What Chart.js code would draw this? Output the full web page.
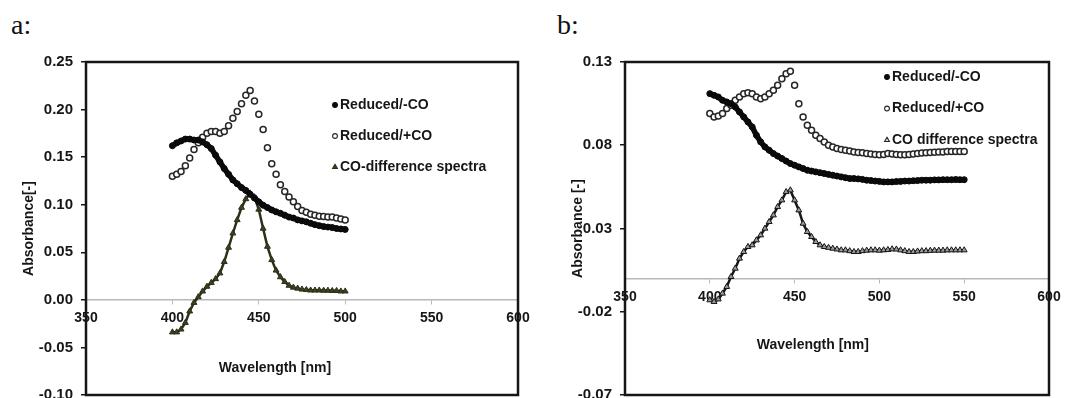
<!DOCTYPE html>
<html>
<head>
<meta charset="utf-8">
<script src="https://cdn.jsdelivr.net/npm/chart.js@4.4.0/dist/chart.umd.min.js"></script>
<style>
  body { margin: 0; background: #fff; width: 1087px; height: 398px; overflow: hidden; position: relative; }
  canvas { position: absolute; top: 0; }
  #ca { left: 0; }
  #cb { left: 540px; }
  .tag { position: absolute; top: 9px; font-family: "Liberation Serif", "DejaVu Serif", serif; font-size: 28px; color: #111; }
</style>
</head>
<body>
<div class="tag" style="left:11px">a:</div>
<div class="tag" style="left:557px">b:</div>
<canvas id="ca" width="560" height="412"></canvas>
<canvas id="cb" width="547" height="412"></canvas>
<script>
// ---- panel a ----
const wlA = [400, 402.5, 405, 407.5, 410, 412.5, 415, 417.5, 420, 422.5, 425, 427.5, 430, 432.5, 435, 437.5,
  440, 442.5, 445, 447.5, 450, 452.5, 455, 457.5, 460, 462.5, 465, 467.5, 470, 472.5, 475, 477.5,
  480, 482.5, 485, 487.5, 490, 492.5, 495, 497.5, 500];
const aReducedNoCO = [0.162, 0.165, 0.167, 0.169, 0.169, 0.168, 0.168, 0.166, 0.163, 0.159, 0.152, 0.145, 0.138, 0.132, 0.126, 0.122,
  0.118, 0.115, 0.111, 0.107, 0.103, 0.0995, 0.097, 0.0945, 0.0925, 0.091, 0.089, 0.087, 0.086, 0.084, 0.083, 0.082,
  0.0805, 0.079, 0.078, 0.077, 0.0765, 0.076, 0.075, 0.0745, 0.074];
const aReducedCO = [0.130, 0.132, 0.135, 0.141, 0.149, 0.158, 0.165, 0.171, 0.175, 0.177, 0.177, 0.175, 0.177, 0.183, 0.191, 0.198,
  0.206, 0.215, 0.220, 0.209, 0.195, 0.179, 0.160, 0.143, 0.132, 0.121, 0.114, 0.108, 0.103, 0.098, 0.094, 0.092,
  0.090, 0.089, 0.088, 0.0875, 0.087, 0.087, 0.086, 0.085, 0.084];
const aDiff = [-0.034, -0.034, -0.031, -0.024, -0.012, -0.003, 0.003, 0.009, 0.014, 0.018, 0.022, 0.028, 0.040, 0.055, 0.070, 0.084,
  0.097, 0.106, 0.112, 0.108, 0.095, 0.075, 0.056, 0.042, 0.031, 0.024, 0.019, 0.015, 0.013, 0.012, 0.011, 0.0105,
  0.010, 0.010, 0.010, 0.0098, 0.0098, 0.0095, 0.0095, 0.009, 0.009];
const yTicksA = [-0.10, -0.05, 0.00, 0.05, 0.10, 0.15, 0.20, 0.25];

// ---- panel b ----
const wlB = [400, 402.5, 405, 407.5, 410, 412.5, 415, 417.5, 420, 422.5, 425, 427.5, 430, 432.5, 435, 437.5,
  440, 442.5, 445, 447.5, 450, 452.5, 455, 457.5, 460, 462.5, 465, 467.5, 470, 472.5, 475, 477.5,
  480, 482.5, 485, 487.5, 490, 492.5, 495, 497.5, 500, 502.5, 505, 507.5, 510, 512.5, 515, 517.5,
  520, 522.5, 525, 527.5, 530, 532.5, 535, 537.5, 540, 542.5, 545, 547.5, 550];
const bReducedNoCO = [0.111, 0.110, 0.109, 0.107, 0.106, 0.105, 0.103, 0.100, 0.097, 0.094, 0.091, 0.086, 0.082, 0.079, 0.077, 0.075,
  0.0735, 0.072, 0.0705, 0.069, 0.068, 0.067, 0.066, 0.065, 0.0645, 0.064, 0.0635, 0.063, 0.0625, 0.062, 0.0615, 0.061,
  0.0605, 0.060, 0.060, 0.0598, 0.0595, 0.059, 0.0588, 0.0585, 0.0583, 0.058, 0.058, 0.058, 0.0582, 0.0583, 0.0585, 0.0585,
  0.0587, 0.0588, 0.059, 0.059, 0.059, 0.0592, 0.0592, 0.0593, 0.0593, 0.0593, 0.0594, 0.0593, 0.0593];
const bReducedCO = [0.099, 0.097, 0.0975, 0.099, 0.102, 0.104, 0.107, 0.109, 0.111, 0.1115, 0.111, 0.109, 0.108, 0.109, 0.111, 0.113,
  0.116, 0.120, 0.123, 0.1245, 0.116, 0.105, 0.097, 0.092, 0.089, 0.086, 0.084, 0.082, 0.080, 0.079, 0.078, 0.0775,
  0.077, 0.0765, 0.076, 0.0757, 0.0755, 0.075, 0.0748, 0.0745, 0.0743, 0.0745, 0.075, 0.0748, 0.0745, 0.0743, 0.0743, 0.0745,
  0.0748, 0.075, 0.0753, 0.0755, 0.0757, 0.0758, 0.076, 0.076, 0.0762, 0.0762, 0.0763, 0.0763, 0.0763];
const bDiff = [-0.013, -0.014, -0.0125, -0.009, -0.005, 0.001, 0.006, 0.012, 0.016, 0.019, 0.020, 0.023, 0.026, 0.030, 0.034, 0.038,
  0.043, 0.047, 0.052, 0.053, 0.047, 0.041, 0.033, 0.028, 0.025, 0.022, 0.020, 0.019, 0.0185, 0.018, 0.0175, 0.017,
  0.017, 0.0165, 0.016, 0.016, 0.0165, 0.0168, 0.017, 0.017, 0.0168, 0.017, 0.0172, 0.0176, 0.0175, 0.017, 0.0165, 0.016,
  0.016, 0.0163, 0.0165, 0.0165, 0.0167, 0.0168, 0.0168, 0.0168, 0.017, 0.017, 0.017, 0.017, 0.017];
const yTicksB = [-0.07, -0.02, 0.03, 0.08, 0.13];

const xTicks = [350, 400, 450, 500, 550, 600];
const legendNames = ['Reduced/-CO', 'Reduced/+CO'];

const FONT = '"Liberation Sans", Arial, sans-serif';
const INK = '#161616';

function drawMarker(ctx, style, x, y, r, fill, stroke) {
  ctx.beginPath();
  if (style === 'triangle') {
    ctx.moveTo(x, y - r * 1.15);
    ctx.lineTo(x + r, y + r * 0.6);
    ctx.lineTo(x - r, y + r * 0.6);
    ctx.closePath();
  } else {
    ctx.arc(x, y, r, 0, Math.PI * 2);
  }
  ctx.fillStyle = fill;
  ctx.fill();
  ctx.lineWidth = 1.1;
  ctx.strokeStyle = stroke;
  ctx.stroke();
}

const framePlugin = {
  id: 'frame',
  afterDraw(chart, args, opts) {
    const {ctx, chartArea: ca} = chart;
    const ys = chart.scales.y;
    ctx.save();
    ctx.strokeStyle = INK;
    ctx.lineWidth = 2.5;
    ctx.strokeRect(ca.left, ca.top, ca.right - ca.left, ca.bottom - ca.top);

    ctx.font = 'bold 14px ' + FONT;
    ctx.fillStyle = INK;
    ctx.textAlign = 'center';
    ctx.textBaseline = 'middle';
    ctx.fillText(opts.xTitle, ca.left + opts.xFrac * (ca.right - ca.left), ys.getPixelForValue(0) + opts.xGap);

    chart.data.datasets.forEach((ds, i) => {
      const x = ca.left + opts.legendLeft;
      const y = ca.top + opts.legendTop + i * opts.legendStep;
      drawMarker(ctx, ds.pointStyle, x, y, 2.4, opts.legendFill[i], opts.legendEdge[i]);
      ctx.fillStyle = INK;
      ctx.textAlign = 'left';
      ctx.fillText(ds.label, x + 5, y);
    });
    ctx.restore();
  }
};

function pts(xs, ys) {
  return xs.map((x, i) => ({x: x, y: ys[i]}));
}

function makeChart(id, cfg) {
  new Chart(document.getElementById(id), {
    type: 'scatter',
    data: {
      datasets: [
        {
          label: legendNames[0],
          data: pts(cfg.wl, cfg.noCO),
          pointStyle: 'circle',
          pointRadius: 3,
          pointBackgroundColor: '#0a0a0a',
          pointBorderColor: '#0a0a0a',
          pointBorderWidth: 1,
          showLine: true,
          borderColor: '#0a0a0a',
          borderWidth: 5.5
        },
        {
          label: legendNames[1],
          data: pts(cfg.wl, cfg.withCO),
          pointStyle: 'circle',
          pointRadius: 3,
          pointBackgroundColor: '#ffffff',
          pointBorderColor: '#262626',
          pointBorderWidth: 1.5
        },
        {
          label: cfg.diffName,
          data: pts(cfg.wl, cfg.diff),
          pointStyle: 'triangle',
          pointRadius: 3.4,
          pointBackgroundColor: cfg.triFill,
          pointBorderColor: cfg.triEdge,
          pointBorderWidth: 1,
          showLine: true,
          borderColor: cfg.triEdge,
          borderWidth: cfg.triLine
        }
      ]
    },
    options: {
      responsive: false,
      animation: false,
      layout: {padding: {top: 62, bottom: 16, right: cfg.padRight, left: 0}},
      plugins: {
        legend: {display: false},
        tooltip: {enabled: false},
        frame: cfg.frame
      },
      scales: {
        x: {
          type: 'linear',
          min: 350,
          max: 600,
          position: {y: 0},
          afterBuildTicks: s => { s.ticks = xTicks.map(v => ({value: v})); },
          ticks: {color: INK, font: {family: FONT, size: 14, weight: 'bold'}, padding: 6, maxRotation: 0, autoSkip: false},
          grid: {drawOnChartArea: false, tickLength: 4, color: '#b8b8b8', lineWidth: 1},
          border: {color: '#b8b8b8', width: 1.5}
        },
        y: {
          type: 'linear',
          min: cfg.yMin,
          max: cfg.yMax,
          afterBuildTicks: s => { s.ticks = cfg.yTicks.map(v => ({value: v})); },
          afterFit: s => { s.width = cfg.axisW; },
          ticks: {color: INK, font: {family: FONT, size: 15, weight: 'bold'}, padding: 8, callback: v => v.toFixed(2)},
          grid: {drawOnChartArea: false, tickLength: 5, color: INK, lineWidth: 1.5},
          border: {display: false},
          title: {display: true, text: cfg.yTitle, color: INK, font: {family: FONT, size: 14, weight: 'bold'}, padding: {top: cfg.yTitlePad, bottom: 0}}
        }
      }
    },
    plugins: [framePlugin]
  });
}

makeChart('ca', {
  wl: wlA, noCO: aReducedNoCO, withCO: aReducedCO, diff: aDiff,
  diffName: 'CO-difference spectra', triFill: '#3d4122', triEdge: '#2c3018', triLine: 2.5,
  yMin: -0.10, yMax: 0.25, yTicks: yTicksA, axisW: 86, padRight: 42,
  yTitle: 'Absorbance[-]', yTitlePad: 20.5,
  frame: {xTitle: 'Wavelength [nm]', xFrac: 0.4375, xGap: 68, legendLeft: 249, legendTop: 43, legendStep: 31,
    legendFill: ['#0a0a0a', '#ffffff', '#3d4122'], legendEdge: ['#0a0a0a', '#262626', '#2c3018']}
});

makeChart('cb', {
  wl: wlB, noCO: bReducedNoCO, withCO: bReducedCO, diff: bDiff,
  diffName: 'CO difference spectra', triFill: '#9a9a9a', triEdge: '#161616', triLine: 2.5,
  yMin: -0.07, yMax: 0.13, yTicks: yTicksB, axisW: 85, padRight: 38,
  yTitle: 'Absorbance [-]', yTitlePad: 29.5,
  frame: {xTitle: 'Wavelength [nm]', xFrac: 0.443, xGap: 67, legendLeft: 262, legendTop: 15, legendStep: 31.5,
    legendFill: ['#0a0a0a', '#ffffff', '#e0e0e0'], legendEdge: ['#0a0a0a', '#262626', '#262626']}
});
</script>
</body>
</html>
